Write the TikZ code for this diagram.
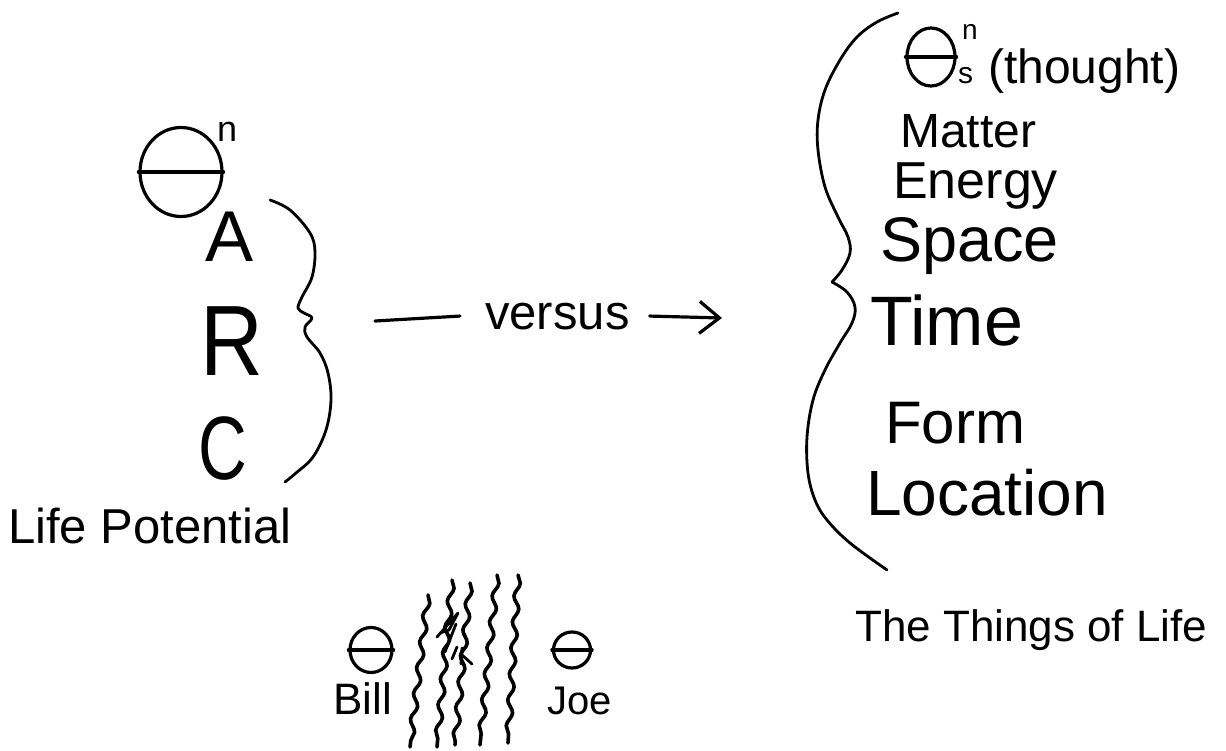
\documentclass[tikz,border=0pt]{standalone}
\usepackage{fontspec}
\usepackage{graphicx}
\setmainfont{Liberation Sans}
\usetikzlibrary{arrows.meta,decorations.pathmorphing,shapes.geometric}
\newcommand\fsz[1]{\fontsize{#1}{#1}\selectfont}
\begin{document}
\begin{tikzpicture}[x=1pt,y=-1pt,
  ink/.style={line width=3.2pt, line cap=round, line join=round},
  braceink/.style={line width=2.8pt, line cap=round, line join=round},
  word/.style={inner sep=0pt, anchor=base west},
  thetaring/.style={ellipse, draw, line width=3.2pt, inner sep=0pt},
  wave/.style={line width=3.6pt, line cap=round, decorate,
    decoration={snake, amplitude=2.8pt, segment length=26pt}},
]
\useasboundingbox[fill=white] (0,0) rectangle (1226,751);

% ---------- left group ----------
\node[thetaring, minimum width=82pt, minimum height=89pt] (th1) at (181,172) {};
\draw[ink] (th1.west) -- (th1.east);
\node[word] (n1) at (217,142) {\fsz{36}n};
\node[word] (A) at (205,262) {\fsz{72}A};
\node[word] (R) at (200,375) {\scalebox{0.87}[1]{\fsz{100}R}};
\node[word] (C) at (198,479) {\scalebox{0.75}[1]{\fsz{90}C}};
\node[word] (life) at (8,543) {\fsz{49}Life Potential};

\draw[braceink] plot[smooth, tension=0.6] coordinates {
  (270,200) (290,210) (310,233) (315,252) (312,277) (302,297) (298,308)
  (304,313) (312,318) (305,327) (307,337) (320,353) (328,373) (331,400)
  (326,430) (313,457) (296,473) (285,482)};

% ---------- versus arrow ----------
\node[word] (vs) at (485,329) {\fsz{49}versus};
\coordinate (d1) at (375,321);
\coordinate (a2) at (722,318);
\draw[ink] (d1) -- ([xshift=-25pt]vs.west);
\draw[ink, -{Straight Barb[length=20pt, width=32pt, line width=3.2pt]}]
  ([xshift=20pt]vs.east) -- (a2);

% ---------- right group ----------
\draw[braceink] plot[smooth, tension=0.6] coordinates {
  (898,13) (877,22) (857,37) (840,60) (825,90) (818,120) (818,150)
  (825,187) (838,217) (848,237) (850,253) (842,270) (832,282)};
\draw[braceink] plot[smooth, tension=0.6] coordinates {
  (832,282) (847,292) (855,307) (852,323) (840,343) (825,370) (813,400)
  (807,437) (808,473) (815,500) (827,520) (850,543) (887,570)};

\node[thetaring, minimum width=48pt, minimum height=58pt] (th2) at (931,57) {};
\draw[ink] (th2.west) -- (th2.east);
\node[word] (n2) at (962,40) {\fsz{28}n};
\node[word] (s2) at (958,84) {\fsz{30}s};
\node[word] (thought) at (988,84) {\fsz{48}(thought)};
\node[word] (matter) at (900,148) {\fsz{48}Matter};
\node[word] (energy) at (893,199) {\fsz{52}Energy};
\node[word] (space) at (880,262) {\fsz{63}Space};
\node[word] (time) at (870,345) {\fsz{70}Time};
\node[word] (form) at (885,443) {\fsz{60}Form};
\node[word] (location) at (866,515) {\fsz{64}Location};
\node[word] (things) at (855,641) {\fsz{44}The Things of Life};

% ---------- bottom: Bill and Joe ----------
\node[thetaring, minimum width=42pt, minimum height=45pt] (thb) at (371,650) {};
\draw[ink] (thb.west) -- (thb.east);
\node[word] (bill) at (333,714) {\fsz{44}Bill};
\node[thetaring, minimum width=37pt, minimum height=36pt] (thj) at (572,650) {};
\draw[ink] (thj.west) -- (thj.east);
\node[word] (joe) at (547,714) {\fsz{40}Joe};

\coordinate (w1a) at (428,595); \coordinate (w1b) at (410,747);
\coordinate (w2a) at (452,580); \coordinate (w2b) at (437,747);
\coordinate (w3a) at (470,583); \coordinate (w3b) at (455,745);
\coordinate (w4a) at (497,575); \coordinate (w4b) at (480,745);
\coordinate (w5a) at (518,575); \coordinate (w5b) at (508,743);
\foreach \i in {1,...,5} { \draw[wave] (w\i a) -- (w\i b); }

% small scribble between the lines
\draw[braceink] (437,637) -- (458,613) -- (449,630) -- (440,633);
\draw[braceink] (445,652) -- (456,624);
\draw[braceink] (452,659) -- (457,647);
\draw[braceink] (462,648) -- (461,664);
\draw[braceink] (462,655) -- (472,664);
\end{tikzpicture}
\end{document}
